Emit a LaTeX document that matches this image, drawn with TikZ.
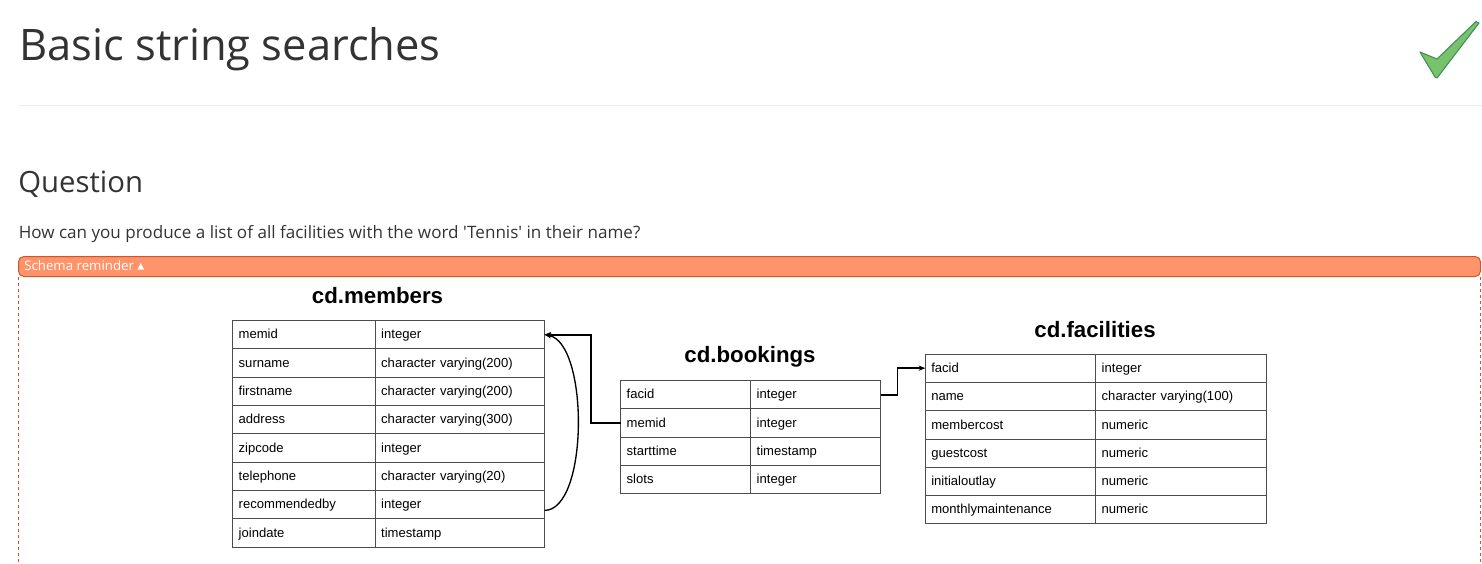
\documentclass[tikz,border=0pt]{standalone}
\usepackage{fontspec}
\setmainfont{Liberation Sans}
\newfontfamily\uifont{Open Sans}
\usetikzlibrary{arrows.meta,calc}
\definecolor{ink}{HTML}{333333}
\definecolor{barfill}{HTML}{FF9369}
\definecolor{barline}{HTML}{D0562A}
\definecolor{tickfill}{HTML}{78C26C}
\definecolor{tickline}{HTML}{3E9055}
\tikzset{
  x=0.75pt,y=-0.75pt,
  title/.style={anchor=base west,inner sep=0pt,text=ink,font=\uifont\fontsize{32.6}{38}\selectfont},
  heading/.style={anchor=base west,inner sep=0pt,text=ink,font=\uifont\fontsize{22}{26}\selectfont},
  para/.style={anchor=base west,inner sep=0pt,text=ink,font=\uifont\fontsize{12.8}{16}\selectfont},
  tname/.style={anchor=base,inner sep=0pt,font=\bfseries\fontsize{16.7}{20}\selectfont},
  cell/.style={draw=black!70,line width=0.55pt,outer sep=0pt,anchor=north west,inner sep=0pt,text height=7pt,text depth=0.5pt,align=left,font=\fontsize{9.8}{12}\selectfont},
  link/.style={draw=black,line width=1.3pt},
  tip/.style={-{Stealth[length=5pt,width=4pt]}},
}
% \trow{name}{x0}{x1}{x2}{ytop}{ybottom}{left text}{right text}
\newcommand{\trow}[8]{%
  \path let \p1=(#2,#5),\p2=(#3,#6),\p3=(#4,#6) in
    node[cell,minimum width=\x2-\x1,minimum height=\y1-\y2,text width=\x2-\x1-9pt,at={(#2,#5)}] (#1a) {#7}
    node[cell,minimum width=\x3-\x2,minimum height=\y1-\y2,text width=\x3-\x2-9pt,at={(#3,#5)}] (#1b) {#8};
}
\begin{document}
\begin{tikzpicture}
\useasboundingbox (0,0) rectangle (1482,564);
\node[title] (ttl) at (19,60) {Basic string searches};
\draw[draw=tickline,fill=tickfill,line width=0.8pt,line join=round] (1420,52) -- (1437,59) -- (1476,21.5) -- (1479,23) -- (1437,78) -- (1435,77) -- cycle;
\draw[draw=black!7,line width=0.75pt] (18,105.5) -- (1482,105.5);
\node[heading] (qh) at (18,192) {Question};
\node[para] (qt) at (18.5,238) {How can you produce a list of all facilities with the word 'Tennis' in their name?};
\draw[draw=barline,line width=0.75pt,dash pattern=on 2.5pt off 2pt] (18.5,277) -- (18.5,564);
\draw[draw=barline,line width=0.75pt,dash pattern=on 2.5pt off 2pt] (1480.5,277) -- (1480.5,564);
\draw[draw=barline,fill=barfill,line width=0.75pt,rounded corners=4pt] (18.5,256.5) rectangle (1480.5,276.5);
\node[anchor=base west,inner sep=0pt,text=white,font=\uifont\fontsize{9.95}{12}\selectfont] (sr) at (24,270) {Schema reminder \raisebox{0.2pt}{\tikz[x=1pt,y=1pt]\fill[white] (0,0)--(5,0)--(2.5,5)--cycle;}};
% members
\node[tname] (tm) at (377.5,303) {cd.members};
\trow{m1}{232.7}{375.2}{544.5}{320.5}{348.8}{memid}{integer}
\trow{m2}{232.7}{375.2}{544.5}{348.8}{377.1}{surname}{character varying(200)}
\trow{m3}{232.7}{375.2}{544.5}{377.1}{405.4}{firstname}{character varying(200)}
\trow{m4}{232.7}{375.2}{544.5}{405.4}{433.7}{address}{character varying(300)}
\trow{m5}{232.7}{375.2}{544.5}{433.7}{462}{zipcode}{integer}
\trow{m6}{232.7}{375.2}{544.5}{462}{490.3}{telephone}{character varying(20)}
\trow{m7}{232.7}{375.2}{544.5}{490.3}{518.6}{recommendedby}{integer}
\trow{m8}{232.7}{375.2}{544.5}{518.6}{546.9}{joindate}{timestamp}
% bookings
\node[tname] (tb) at (750,362.5) {cd.bookings};
\trow{b1}{620.7}{750.7}{880.5}{380.5}{408.8}{facid}{integer}
\trow{b2}{620.7}{750.7}{880.5}{408.8}{437.1}{memid}{integer}
\trow{b3}{620.7}{750.7}{880.5}{437.1}{465.4}{starttime}{timestamp}
\trow{b4}{620.7}{750.7}{880.5}{465.4}{493.7}{slots}{integer}
% facilities
\node[tname] (tf) at (1095,337) {cd.facilities};
\trow{f1}{925.3}{1095.7}{1266.5}{354}{382.3}{facid}{integer}
\trow{f2}{925.3}{1095.7}{1266.5}{382.3}{410.6}{name}{character varying(100)}
\trow{f3}{925.3}{1095.7}{1266.5}{410.6}{438.9}{membercost}{numeric}
\trow{f4}{925.3}{1095.7}{1266.5}{438.9}{467.2}{guestcost}{numeric}
\trow{f5}{925.3}{1095.7}{1266.5}{467.2}{495.5}{initialoutlay}{numeric}
\trow{f6}{925.3}{1095.7}{1266.5}{495.5}{523.8}{monthlymaintenance}{numeric}
% connectors
\coordinate (kneeb) at ($(b2a.west)+(-30,0)$);
\coordinate (kneef) at ($(b1b.east)+(17,0)$);
\coordinate (recb) at ($(m7b.east)+(0,6)$);
\draw[link,tip] (b2a.west) -- (kneeb) |- (m1b.east);
\draw[link,tip] (b1b.east) -- (kneef) |- (f1a.west);
\draw[draw=black,line width=1pt,tip] (recb) .. controls (589,510) and (589,342) .. (m1b.east);
\end{tikzpicture}
\end{document}
